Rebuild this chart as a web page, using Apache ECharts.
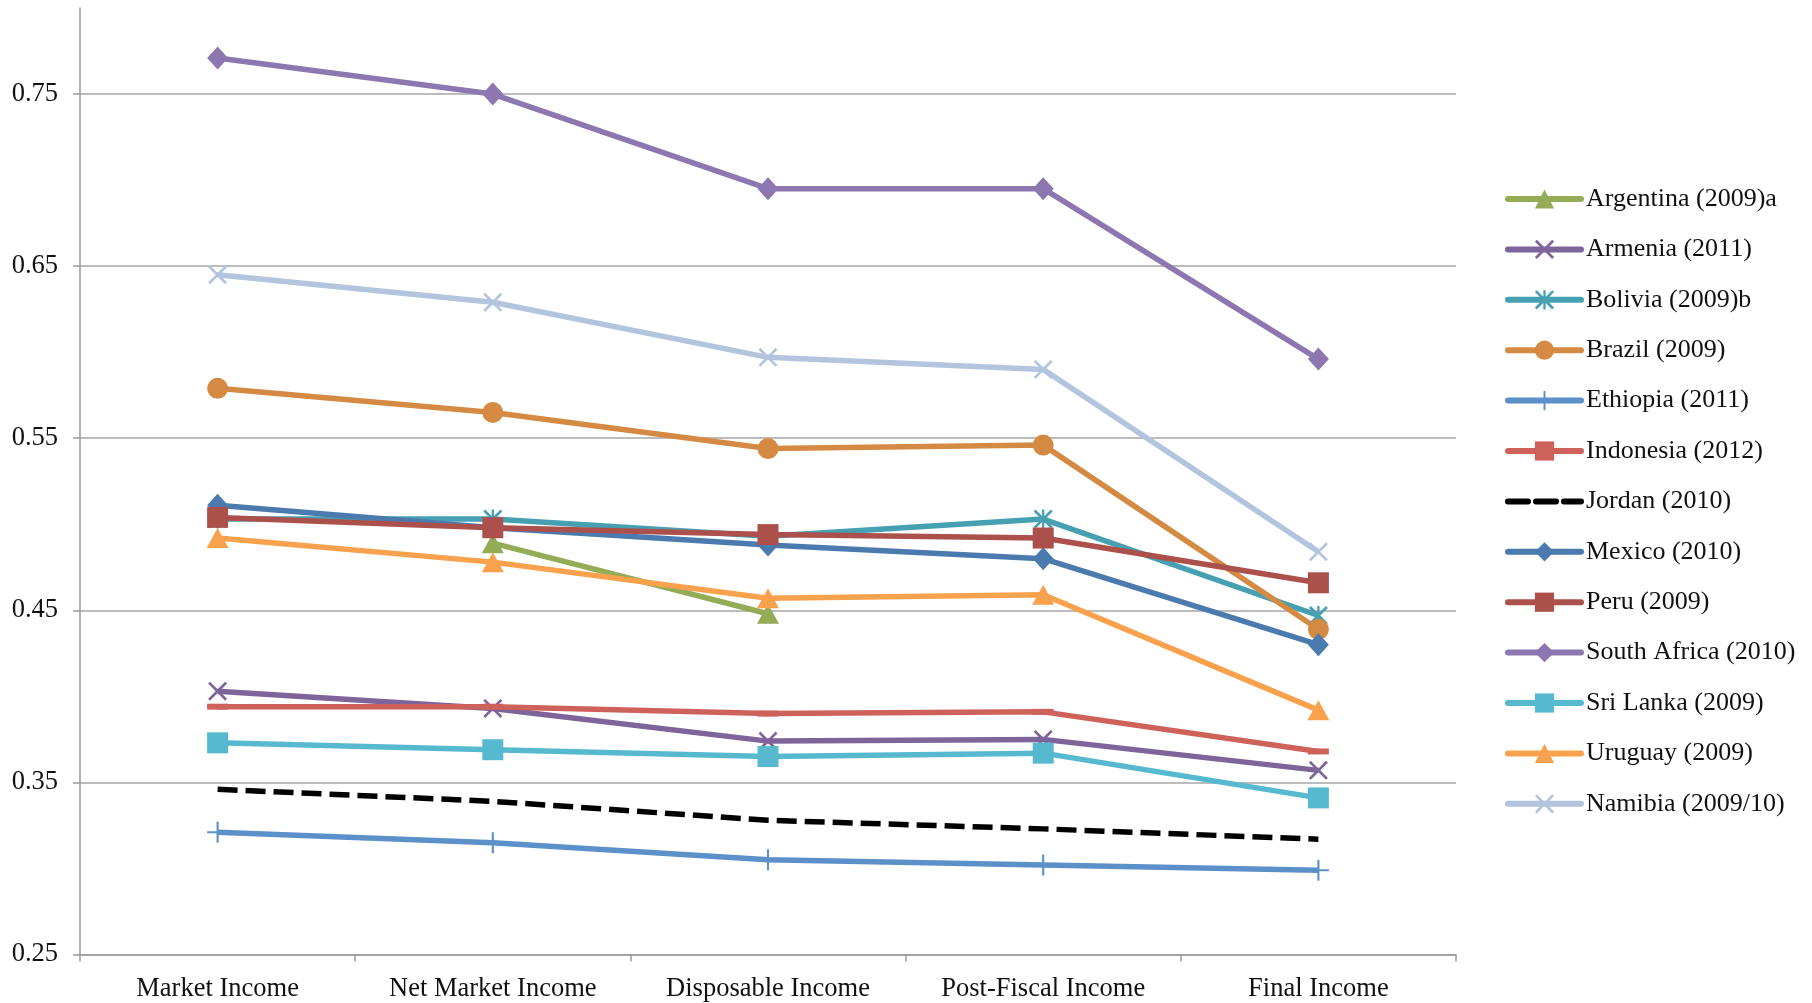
<!DOCTYPE html>
<html>
<head>
<meta charset="utf-8">
<script src="https://cdn.jsdelivr.net/npm/echarts@6/dist/echarts.min.js"></script>
<style>
html, body { margin: 0; padding: 0; background: #fff; }
#chart { width: 1812px; height: 1003px; }
</style>
</head>
<body>
<div id="chart"></div>
<script>
// income concepts on the x axis
var categories = ['Market Income', 'Net Market Income', 'Disposable Income', 'Post-Fiscal Income', 'Final Income'];

// Gini values
var argentina = [null, 0.489, 0.448, null, null];
var armenia = [0.403, 0.393, 0.374, 0.375, 0.357];
var bolivia = [0.503, 0.503, 0.493, 0.503, 0.447];
var brazil = [0.579, 0.565, 0.544, 0.546, 0.439];
var ethiopia = [0.321, 0.315, 0.305, 0.302, 0.299];
var indonesia = [0.394, 0.394, 0.390, 0.391, 0.368];
var jordan = [0.346, 0.339, 0.328, 0.323, 0.317];
var mexico = [0.511, 0.498, 0.488, 0.480, 0.430];
var peru = [0.504, 0.498, 0.494, 0.492, 0.466];
var southAfrica = [0.771, 0.750, 0.695, 0.695, 0.596];
var sriLanka = [0.373, 0.369, 0.365, 0.367, 0.341];
var uruguay = [0.492, 0.478, 0.457, 0.459, 0.392];
var namibia = [0.645, 0.629, 0.597, 0.590, 0.484];

// y axis ticks
var yMin = 0.25, yMax = 0.8, yStep = 0.1;

var X_PATH = 'path://M0,1 L1,0 L5,4 L9,0 L10,1 L6,5 L10,9 L9,10 L5,6 L1,10 L0,9 L4,5 Z';
var STAR_PATH = 'path://M0,1 L1,0 L5,4 L9,0 L10,1 L6,5 L10,9 L9,10 L5,6 L1,10 L0,9 L4,5 Z M4.4,0 L5.6,0 L5.6,10 L4.4,10 Z';
var PLUS_PATH = 'path://M4.5,0 L5.5,0 L5.5,4.5 L10,4.5 L10,5.5 L5.5,5.5 L5.5,10 L4.5,10 L4.5,5.5 L0,5.5 L0,4.5 L4.5,4.5 Z';
var DASH_PATH = 'path://M0,0 L10,0 L10,10 L0,10 Z';

function line(name, data, color, symbol, size, extra) {
    var s = {
        name: name,
        type: 'line',
        data: data,
        symbol: symbol,
        symbolSize: size,
        showSymbol: symbol !== 'none',
        connectNulls: false,
        itemStyle: { color: color, borderWidth: 0 },
        lineStyle: { color: color, width: 5.5 },
        emphasis: { disabled: true },
        z: 2
    };
    if (extra) {
        for (var k in extra) s[k] = extra[k];
    }
    return s;
}

var series = [
    line('Argentina (2009)a', argentina, '#93AC55', 'triangle', [22, 20]),
    line('Armenia (2011)', armenia, '#7E6499', X_PATH, 19),
    line('Bolivia (2009)b', bolivia, '#46A0B2', STAR_PATH, 19),
    line('Brazil (2009)', brazil, '#D58A43', 'circle', 21),
    line('Ethiopia (2011)', ethiopia, '#5B90C8', PLUS_PATH, 21),
    line('Indonesia (2012)', indonesia, '#CE625B', DASH_PATH, [21, 6]),
    line('Jordan (2010)', jordan, '#000000', 'none', 0, {
        lineStyle: { color: '#000000', width: 5.5, type: [20, 8] }
    }),
    line('Mexico (2010)', mexico, '#4A7AAE', 'diamond', [21, 23]),
    line('Peru (2009)', peru, '#AC504C', 'rect', 21),
    line('South Africa (2010)', southAfrica, '#8D77B0', 'diamond', [21, 23]),
    line('Sri Lanka (2009)', sriLanka, '#57B9D0', 'rect', 21),
    line('Uruguay (2009)', uruguay, '#F9A14D', 'triangle', [22, 20]),
    line('Namibia (2009/10)', namibia, '#B3C4DE', X_PATH, 19)
];

var legendData = series.map(function (s) {
    if (s.symbol === 'none') {
        return { name: s.name, itemStyle: { opacity: 0 } };
    }
    return { name: s.name };
});

var chart = echarts.init(document.getElementById('chart'));
var option = {
    animation: false,
    backgroundColor: '#ffffff',
    textStyle: { fontFamily: 'Liberation Serif' },
    grid: { left: 80, right: 356, top: 8, bottom: 48 },
    legend: {
        orient: 'vertical',
        left: 1500,
        top: 181,
        itemWidth: 73,
        itemHeight: 24,
        itemGap: 24.4,
        selectedMode: false,
        lineStyle: { width: 6, cap: 'round' },
        textStyle: { fontFamily: 'Liberation Serif', fontSize: 26, color: '#111', lineHeight: 25 },
        data: legendData
    },
    xAxis: {
        type: 'category',
        data: categories,
        boundaryGap: true,
        axisLine: { lineStyle: { color: '#9a9a9a', width: 1.5 } },
        axisTick: { show: true, length: 7, lineStyle: { color: '#9a9a9a', width: 1.5 } },
        axisLabel: { color: '#111', fontSize: 26.5, margin: 21.5, fontFamily: 'Liberation Serif' },
        splitLine: { show: false }
    },
    yAxis: {
        type: 'value',
        min: yMin,
        max: yMax,
        interval: yStep,
        axisLine: { show: true, lineStyle: { color: '#9a9a9a', width: 1.5 } },
        axisTick: { show: true, length: 7, lineStyle: { color: '#9a9a9a', width: 1.5 } },
        axisLabel: {
            color: '#111', fontSize: 26.5, margin: 22, fontFamily: 'Liberation Serif',
            showMaxLabel: false,
            formatter: function (v) { return v.toFixed(2); }
        },
        splitLine: { show: true, showMaxLine: false, lineStyle: { color: '#a6a6a6', width: 1.5 } }
    },
    series: series
};
chart.setOption(option);
</script>
</body>
</html>
